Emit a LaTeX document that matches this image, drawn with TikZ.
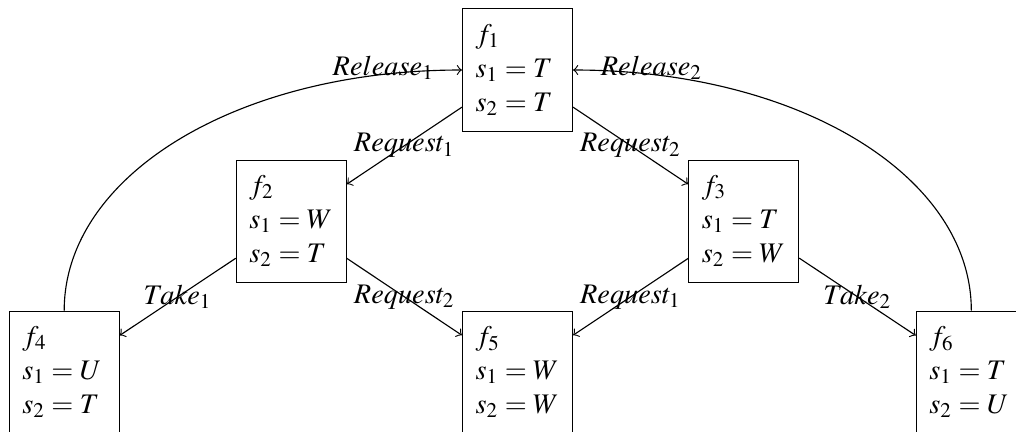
\documentclass[tikz,border=0pt]{standalone}
\usepackage{mathptmx}
\begin{document}
\begin{tikzpicture}[x=0.353pt,y=-0.353pt,
  state/.style={draw, rectangle, align=left, text width=29.6pt, inner xsep=4.6pt,
    minimum width=38.8pt, minimum height=43.2pt},
  lbl/.style={inner sep=1pt}]
\useasboundingbox (0,0) rectangle (1016,433);
\clip (0,0) rectangle (1016,431.5);
\node[state] (f1) at (517.5,70) {$f_1$\\$s_1=T$\\$s_2=T$};
\node[state] (f2) at (291.3,221.3) {$f_2$\\$s_1=W$\\$s_2=T$};
\node[state] (f3) at (743.7,221.3) {$f_3$\\$s_1=T$\\$s_2=W$};
\node[state] (f4) at (64.2,372.3) {$f_4$\\$s_1=U$\\$s_2=T$};
\node[state] (f5) at (517.5,372.3) {$f_5$\\$s_1=W$\\$s_2=W$};
\node[state] (f6) at (971.3,372.3) {$f_6$\\$s_1=T$\\$s_2=U$};
\draw[->] (f1) -- node[lbl] {$Request_1$} (f2);
\draw[->] (f1) -- node[lbl] {$Request_2$} (f3);
\draw[->] (f2) -- node[lbl] {$Take_1$} (f4);
\draw[->] (f2) -- node[lbl] {$Request_2$} (f5);
\draw[->] (f3) -- node[lbl] {$Request_1$} (f5);
\draw[->] (f3) -- node[lbl] {$Take_2$} (f6);
\draw[->] (f4.north) .. controls +(0,-135) and +(-225,0) .. node[lbl, pos=0.88, yshift=2.4pt] {$Release_1$} (f1.west);
\draw[->] (f6.north) .. controls +(0,-135) and +(225,0) .. node[lbl, pos=0.88, yshift=2.4pt] {$Release_2$} (f1.east);
\end{tikzpicture}
\end{document}
